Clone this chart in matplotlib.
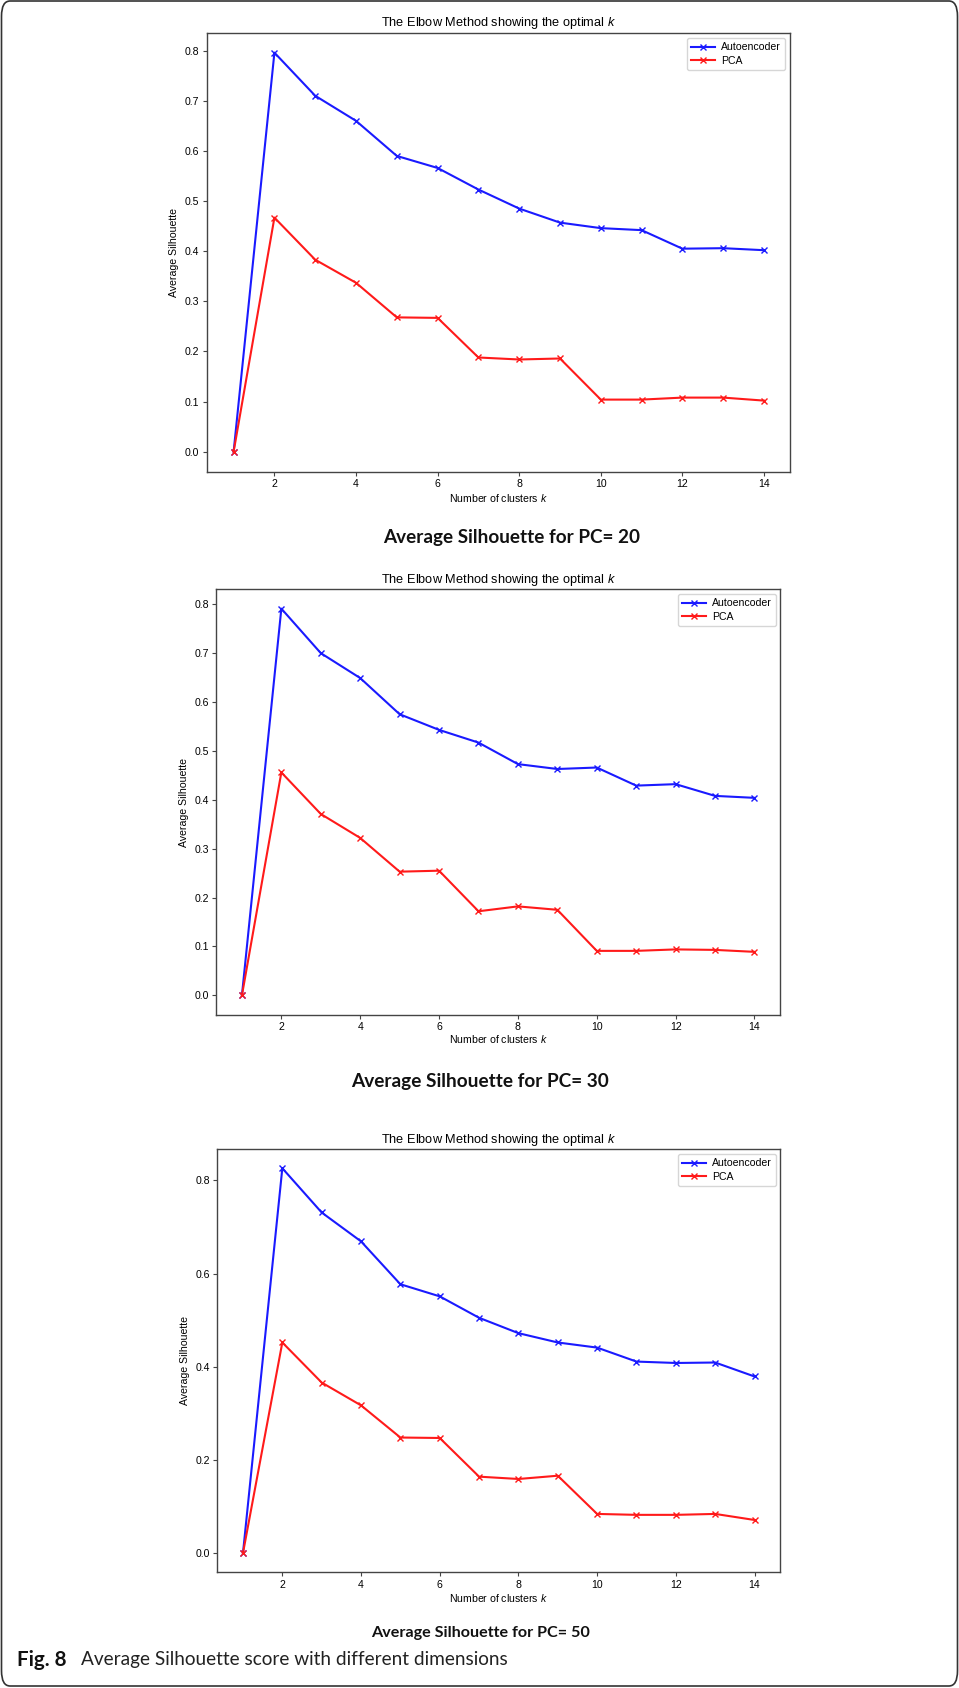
import matplotlib
matplotlib.use("Agg")
import matplotlib.pyplot as plt
from matplotlib import font_manager
from matplotlib.patches import FancyBboxPatch

# ---------------- data ----------------
k_values = list(range(1, 15))

ae_pc20 = [0.0, 0.796, 0.710, 0.660, 0.590, 0.566, 0.523, 0.485, 0.457, 0.446, 0.442, 0.405, 0.406, 0.402]
pca_pc20 = [0.0, 0.467, 0.383, 0.337, 0.268, 0.267, 0.188, 0.184, 0.186, 0.104, 0.104, 0.108, 0.108, 0.102]

ae_pc30 = [0.0, 0.791, 0.700, 0.649, 0.575, 0.543, 0.517, 0.473, 0.463, 0.466, 0.429, 0.432, 0.408, 0.404]
pca_pc30 = [0.0, 0.456, 0.371, 0.322, 0.253, 0.255, 0.172, 0.182, 0.175, 0.091, 0.091, 0.094, 0.093, 0.089]

ae_pc50 = [0.0, 0.826, 0.731, 0.669, 0.577, 0.551, 0.505, 0.472, 0.452, 0.441, 0.411, 0.408, 0.409, 0.379]
pca_pc50 = [0.0, 0.452, 0.366, 0.317, 0.248, 0.247, 0.164, 0.159, 0.166, 0.084, 0.082, 0.082, 0.084, 0.071]

series_labels = ["Autoencoder", "PCA"]
panel_captions = ["Average Silhouette for PC= 20", "Average Silhouette for PC= 30", "Average Silhouette for PC= 50"]
plot_title = r"The Elbow Method showing the optimal $k$"
x_label = r"Number of clusters $k$"
y_label = "Average Silhouette"
fig_caption_bold = "Fig. 8"
fig_caption_text = "Average Silhouette score with different dimensions"

# ---------------- fonts ----------------
names = {f.name for f in font_manager.fontManager.ttflist}
plot_font = "Liberation Sans"
cap_font = "Lato" if "Lato" in names else "DejaVu Sans"
plt.rcParams["font.family"] = [plot_font, "DejaVu Sans"]
plt.rcParams["mathtext.fontset"] = "custom"
plt.rcParams["mathtext.it"] = plot_font + ":italic"
plt.rcParams["mathtext.rm"] = plot_font

W, H = 959, 1688
fig = plt.figure(figsize=(W / 100, H / 100), dpi=100)

def fx(px):
    return px / W

def fy(py):
    return 1 - py / H

# axes boxes in pixel coords: left, top, right, bottom
boxes = [
    (207.1, 32.7, 790.5, 471.7),
    (216.3, 589.3, 780.1, 1014.7),
    (217.4, 1149.0, 780.1, 1572.3),
]
title_y = [23, 580, 1140]
legend_box = [(785, 38), (776, 594), (776, 1154)]
ylabel_x = [174, 184, 185]
xlabel_y = [498, 1039, 1598]
caption_pos = [(512, 538), (480, 1082), (481, 1633)]
caption_w = [258, 259, 220]

data = [(ae_pc20, pca_pc20), (ae_pc30, pca_pc30), (ae_pc50, pca_pc50)]
yticks_sets = [[0.0, 0.1, 0.2, 0.3, 0.4, 0.5, 0.6, 0.7, 0.8],
               [0.0, 0.1, 0.2, 0.3, 0.4, 0.5, 0.6, 0.7, 0.8],
               [0.0, 0.2, 0.4, 0.6, 0.8]]

spine_color = "#444444"
fs = 7.6
for i, (l, t, r, b) in enumerate(boxes):
    ax = fig.add_axes([fx(l), fy(b), (r - l) / W, (b - t) / H])
    ae, pca = data[i]
    ax.plot(k_values, ae, color="#1a1aff", marker="x", markersize=5, lw=1.5, label=series_labels[0])
    ax.plot(k_values, pca, color="#ff1a1a", marker="x", markersize=5, lw=1.5, label=series_labels[1])
    ax.set_xticks([2, 4, 6, 8, 10, 12, 14])
    ax.set_yticks(yticks_sets[i])
    ax.tick_params(labelsize=fs, length=3, width=0.8, color=spine_color, pad=2.5)
    for s in ax.spines.values():
        s.set_color(spine_color)
        s.set_linewidth(1.0)
    fig.text(0.5 * (fx(l) + fx(r)), fy(title_y[i]), plot_title, fontsize=9.2,
             ha="center", va="center")
    fig.text(fx(ylabel_x[i]), fy((t + b) / 2), y_label, rotation=90, fontsize=fs,
             ha="center", va="center")
    fig.text(0.5 * (fx(l) + fx(r)), fy(xlabel_y[i]), x_label, fontsize=fs, ha="center", va="center")
    lx, ly = legend_box[i]
    ax.legend(loc="upper right", bbox_to_anchor=(fx(lx), fy(ly)), bbox_transform=fig.transFigure,
              fontsize=fs, handlelength=2.2, borderpad=0.4, labelspacing=0.35,
              handletextpad=0.6, borderaxespad=0, framealpha=0.8, edgecolor="#cccccc", fancybox=True)

# captions fitted to measured width
fig.canvas.draw()
renderer = fig.canvas.get_renderer()
for cap, (cx, cy), wpx in zip(panel_captions, caption_pos, caption_w):
    txt = fig.text(fx(cx), fy(cy), cap, fontsize=14, fontweight="bold", family=cap_font,
                   ha="center", va="center", color="#111111")
    bb = txt.get_window_extent(renderer)
    txt.set_fontsize(14 * wpx / bb.width)

t1 = fig.text(fx(17), fy(1660), fig_caption_bold, fontsize=14, fontweight="bold", family=cap_font,
              ha="left", va="center", color="#111111")
bb1 = t1.get_window_extent(renderer)
t1.set_fontsize(14 * 50 / bb1.width)
t2 = fig.text(fx(81), fy(1660), fig_caption_text, fontsize=14, fontweight="normal",
              family=cap_font, ha="left", va="center", color="#222222")
bb2 = t2.get_window_extent(renderer)
t2.set_fontsize(14 * 430 / bb2.width)

# rounded frame
frame = FancyBboxPatch((fx(1.5), fy(1686)), fx(956), 1685 / H,
                       boxstyle="round,pad=0,rounding_size=0.009",
                       transform=fig.transFigure, fill=False, edgecolor="#333333", lw=1.2)
fig.patches.append(frame)

fig.savefig("out.png", dpi=100)
